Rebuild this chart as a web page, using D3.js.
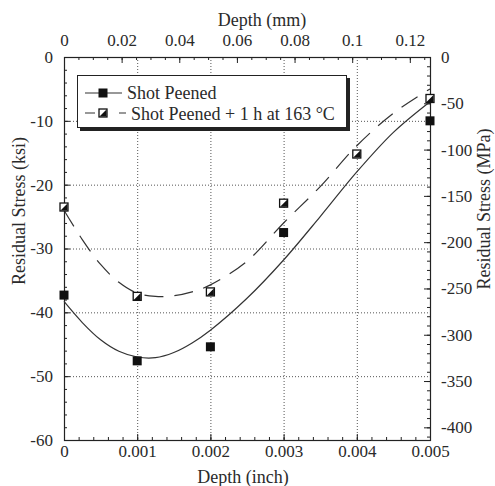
<!DOCTYPE html>
<html>
<head>
<meta charset="utf-8">
<script src="https://cdn.jsdelivr.net/npm/d3@7"></script>
<style>
  body { margin: 0; background: #fff; }
</style>
</head>
<body>
<svg id="chart" width="495" height="486"></svg>
<script>
// measured points (depth in inch, stress in ksi)
var spDepth = [0, 0.001, 0.002, 0.003, 0.005];
var spStress = [-37.3, -47.6, -45.4, -27.5, -10.0];
var htDepth = [0, 0.001, 0.002, 0.003, 0.004, 0.005];
var htStress = [-23.5, -37.5, -36.8, -22.9, -15.2, -6.5];

// fitted curves
var fitDepth = [0, 0.00025, 0.0005, 0.00075, 0.001, 0.00125, 0.0015, 0.00175, 0.002, 0.0025, 0.003, 0.0035, 0.004, 0.0045, 0.005];
var spFit = [-38.3, -41.6, -44.3, -46.1, -47.0, -47.1, -46.3, -44.8, -42.8, -37.8, -31.8, -25.0, -18.0, -11.8, -7.0];
var htFit = [-24.0, -28.6, -32.5, -35.3, -37.0, -37.5, -37.4, -36.8, -35.7, -32.0, -26.0, -20.3, -13.9, -8.8, -5.0];

var inchTicks = [0, 0.001, 0.002, 0.003, 0.004, 0.005];
var mmTicks = [0, 0.02, 0.04, 0.06, 0.08, 0.1, 0.12];
var ksiTicks = [0, -10, -20, -30, -40, -50, -60];
var mpaTicks = [0, -50, -100, -150, -200, -250, -300, -350, -400];
var legendLabels = ["Shot Peened", "Shot Peened + 1 h at 163 \u00B0C"];

var FONT = "Liberation Serif, DejaVu Serif, Times New Roman, serif";

// layout
var pL = 64, pR = 430, pT = 57, pB = 440;
var svg = d3.select("#chart").attr("font-family", FONT);

var x = d3.scaleLinear().domain([0, 0.005]).range([pL, pR]);
var xmm = d3.scaleLinear().domain([0, 0.005 * 25.4]).range([pL, pR]);
var y = d3.scaleLinear().domain([-60, 0]).range([pB, pT]);
var ympa = d3.scaleLinear().domain([-60 * 6.89476, 0]).range([pB, pT]);

// grid
var grid = svg.append("g").attr("stroke", "#555").attr("stroke-dasharray", "1,2").attr("stroke-width", 1);
grid.selectAll("line.h").data(ksiTicks.slice(1, -1)).enter().append("line")
  .attr("x1", pL).attr("x2", pR)
  .attr("y1", function(d) { return y(d) + 0.5; }).attr("y2", function(d) { return y(d) + 0.5; });
grid.selectAll("line.v").data(inchTicks.slice(1, -1)).enter().append("line")
  .attr("y1", pT).attr("y2", pB)
  .attr("x1", function(d) { return x(d) + 0.5; }).attr("x2", function(d) { return x(d) + 0.5; });

function fmt(d) { return d === 0 ? "0" : String(d); }
function minors(a, b, step) {
  var out = [];
  for (var v = a; v <= b + 1e-12; v += step) out.push(+v.toFixed(8));
  return out;
}

function styleAxis(g) {
  g.attr("font-family", FONT).attr("font-size", 17);
  g.select(".domain").remove();
  g.selectAll("line").attr("stroke", "#222");
  g.selectAll("text").attr("fill", "#2a2a2a");
}

// bottom axis (inch)
svg.append("g").attr("transform", "translate(0," + pB + ")")
  .call(d3.axisBottom(x).tickValues(minors(0, 0.005, 0.0002)).tickSize(-3).tickFormat(""))
  .call(styleAxis);
svg.append("g").attr("transform", "translate(0," + pB + ")")
  .call(d3.axisBottom(x).tickValues(inchTicks).tickSize(-6).tickPadding(5).tickFormat(fmt))
  .call(styleAxis);

// top axis (mm)
svg.append("g").attr("transform", "translate(0," + pT + ")")
  .call(d3.axisTop(xmm).tickValues(minors(0, 0.125, 0.005)).tickSize(-3).tickFormat(""))
  .call(styleAxis);
svg.append("g").attr("transform", "translate(0," + pT + ")")
  .call(d3.axisTop(xmm).tickValues(mmTicks).tickSize(-6).tickPadding(11).tickFormat(fmt))
  .call(styleAxis);

// left axis (ksi)
svg.append("g").attr("transform", "translate(" + pL + ",0)")
  .call(d3.axisLeft(y).tickValues(minors(-60, 0, 2)).tickSize(-3).tickFormat(""))
  .call(styleAxis);
svg.append("g").attr("transform", "translate(" + pL + ",0)")
  .call(d3.axisLeft(y).tickValues(ksiTicks).tickSize(-6).tickPadding(11).tickFormat(fmt))
  .call(styleAxis);

// right axis (MPa)
svg.append("g").attr("transform", "translate(" + pR + ",0)")
  .call(d3.axisRight(ympa).tickValues(minors(-410, 0, 10)).tickSize(-3).tickFormat(""))
  .call(styleAxis);
svg.append("g").attr("transform", "translate(" + pR + ",0)")
  .call(d3.axisRight(ympa).tickValues(mpaTicks).tickSize(-6).tickPadding(11).tickFormat(fmt))
  .call(styleAxis);

// frame
svg.append("rect").attr("x", pL + 0.5).attr("y", pT + 0.5)
  .attr("width", pR - pL).attr("height", pB - pT)
  .attr("fill", "none").attr("stroke", "#222").attr("stroke-width", 1.2);

// axis titles
var titles = svg.append("g").attr("font-size", 18).attr("fill", "#2a2a2a").attr("text-anchor", "middle");
titles.append("text").attr("x", 262).attr("y", 26).text("Depth (mm)");
titles.append("text").attr("x", 243).attr("y", 483).text("Depth (inch)");
titles.append("text").attr("transform", "translate(25,211) rotate(-90)").text("Residual Stress (ksi)");
titles.append("text").attr("transform", "translate(490,209) rotate(-90)").text("Residual Stress (MPa)");

// curves
var line = d3.line().curve(d3.curveCatmullRom)
  .x(function(d, i) { return x(fitDepth[i]); })
  .y(function(d) { return y(d); });
svg.append("path").datum(spFit).attr("d", line)
  .attr("fill", "none").attr("stroke", "#333").attr("stroke-width", 1.2);
svg.append("path").datum(htFit).attr("d", line)
  .attr("fill", "none").attr("stroke", "#333").attr("stroke-width", 1.2)
  .attr("stroke-dasharray", "19,11");

// markers
var s = 9;
function filledSquare(g) {
  g.append("rect").attr("x", -s / 2).attr("y", -s / 2).attr("width", s).attr("height", s)
    .attr("fill", "#111");
}
function halfSquare(g) {
  g.append("rect").attr("x", -s / 2 + 0.5).attr("y", -s / 2 + 0.5).attr("width", s - 1).attr("height", s - 1)
    .attr("fill", "#fff").attr("stroke", "#111").attr("stroke-width", 1.3);
  g.append("path").attr("d", "M" + (s / 2 - 1) + "," + (-s / 2 + 1) + "L" + (s / 2 - 1) + "," + (s / 2 - 1) + "L" + (-s / 2 + 1) + "," + (s / 2 - 1) + "Z")
    .attr("fill", "#111");
}
svg.selectAll("g.sp").data(spStress).enter().append("g").attr("class", "sp")
  .attr("transform", function(d, i) { return "translate(" + x(spDepth[i]) + "," + y(d) + ")"; })
  .each(function() { filledSquare(d3.select(this)); });
svg.selectAll("g.ht").data(htStress).enter().append("g").attr("class", "ht")
  .attr("transform", function(d, i) { return "translate(" + x(htDepth[i]) + "," + y(d) + ")"; })
  .each(function() { halfSquare(d3.select(this)); });

// legend
var lg = svg.append("g");
lg.append("rect").attr("x", 80).attr("y", 78).attr("width", 270).attr("height", 53).attr("fill", "#222");
lg.append("rect").attr("x", 77.5).attr("y", 75.5).attr("width", 269).attr("height", 52)
  .attr("fill", "#fff").attr("stroke", "#222").attr("stroke-width", 1);
lg.append("line").attr("x1", 85).attr("x2", 122).attr("y1", 93).attr("y2", 93)
  .attr("stroke", "#333").attr("stroke-width", 1.2);
lg.append("line").attr("x1", 85).attr("x2", 126).attr("y1", 113).attr("y2", 113)
  .attr("stroke", "#333").attr("stroke-width", 1.2).attr("stroke-dasharray", "10,24,7");
lg.append("g").attr("transform", "translate(103,93)").call(filledSquare);
lg.append("g").attr("transform", "translate(103,113)").call(halfSquare);
lg.selectAll("text.lab").data(legendLabels).enter().append("text")
  .attr("x", function(d, i) { return i === 0 ? 127 : 131; })
  .attr("y", function(d, i) { return 99 + i * 20.5; })
  .attr("fill", "#2a2a2a")
  .attr("font-size", 18).text(function(d) { return d; });
</script>
</body>
</html>
